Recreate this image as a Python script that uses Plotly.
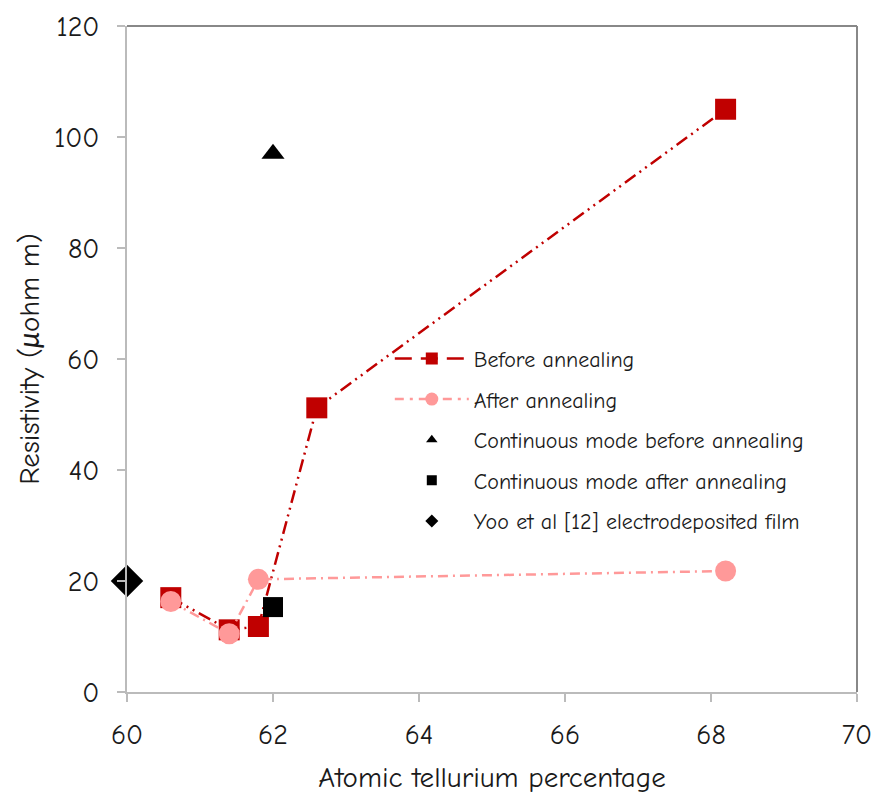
import plotly.graph_objects as go

# Data
before_x = [60.6, 61.4, 61.8, 62.6, 68.2]
before_y = [17.0, 11.2, 11.8, 51.2, 105.0]
after_x = [60.6, 61.4, 61.8, 68.2]
after_y = [16.3, 10.5, 20.3, 21.8]
cont_before_x = [62.0]
cont_before_y = [97.0]
cont_after_x = [62.0]
cont_after_y = [15.3]
yoo_x = [60.0]
yoo_y = [20.0]

names = ["Before annealing", "After annealing", "Continuous mode before annealing",
         "Continuous mode after annealing", "Yoo et al [12] electrodeposited film"]

x_ticks = [60, 62, 64, 66, 68, 70]
y_ticks = [0, 20, 40, 60, 80, 100, 120]

RED = "#C00000"
PINK = "#FF9999"
FONT = "Comic Sans MS, Comic Neue, Lato, sans-serif"

fig = go.Figure()

# data traces
fig.add_trace(go.Scatter(x=before_x, y=before_y, mode="lines+markers", showlegend=False,
                         line=dict(color=RED, width=2.5, dash="13px,5px,2px,5px,2px,5px"),
                         marker=dict(symbol="square", size=21, color=RED)))
fig.add_trace(go.Scatter(x=after_x, y=after_y, mode="lines+markers", showlegend=False,
                         line=dict(color=PINK, width=2.5, dash="10px,5px,2px,5px"),
                         marker=dict(symbol="circle", size=21, color=PINK)))
fig.add_trace(go.Scatter(x=cont_before_x, y=cont_before_y, mode="markers", showlegend=False,
                         marker=dict(symbol="triangle-up", size=20, color="black")))
fig.add_trace(go.Scatter(x=cont_after_x, y=cont_after_y, mode="markers", showlegend=False,
                         marker=dict(symbol="square", size=20, color="black")))
fig.add_trace(go.Scatter(x=yoo_x, y=yoo_y, mode="markers", showlegend=False, cliponaxis=False,
                         marker=dict(symbol="diamond", size=25, color="black")))

# legend entries
fig.add_trace(go.Scatter(x=[None], y=[None], mode="lines+markers", name=names[0], legendgroup="a",
                         line=dict(color=RED, width=2.5, dash="17px,9px"),
                         marker=dict(symbol="square", size=12, color=RED)))
fig.add_trace(go.Scatter(x=[None], y=[None], mode="lines+markers", name=names[1], legendgroup="b",
                         line=dict(color=PINK, width=2.5, dash="9px,6px,3px,6px"),
                         marker=dict(symbol="circle", size=13, color=PINK)))
fig.add_trace(go.Scatter(x=[None], y=[None], mode="markers", name=names[2], legendgroup="c",
                         marker=dict(symbol="triangle-up", size=10, color="black")))
fig.add_trace(go.Scatter(x=[None], y=[None], mode="markers", name=names[3], legendgroup="d",
                         marker=dict(symbol="square", size=10, color="black")))
fig.add_trace(go.Scatter(x=[None], y=[None], mode="markers", name=names[4], legendgroup="e",
                         marker=dict(symbol="diamond", size=10, color="black")))

fig.update_layout(
    width=877, height=798,
    margin=dict(l=127, r=20, t=26, b=106),
    paper_bgcolor="white", plot_bgcolor="white",
    font=dict(family=FONT, color="#1a1a1a"),
    legend=dict(x=0.36, y=0.532, xanchor="left", yanchor="top",
                bgcolor="rgba(0,0,0,0)", font=dict(size=22, family=FONT, color="#1a1a1a"),
                tracegroupgap=9, itemwidth=74),
    showlegend=True,
)
fig.update_xaxes(range=[60, 70], tickvals=x_ticks, ticktext=[str(v) for v in x_ticks],
                 automargin=False,
                 showgrid=False, zeroline=False, showline=True, linecolor="#BBBBBB", linewidth=2,
                 ticks="outside", ticklen=8, tickcolor="#BBBBBB", tickwidth=2,
                 tickfont=dict(size=28), ticklabelstandoff=8,
                 title=dict(text="Atomic tellurium percentage", font=dict(size=29), standoff=17))
fig.update_yaxes(range=[0, 120], tickvals=y_ticks, ticktext=[str(v) for v in y_ticks],
                 automargin=False,
                 showgrid=False, zeroline=False, showline=True, linecolor="#BBBBBB", linewidth=2,
                 ticks="outside", ticklen=8, tickcolor="#BBBBBB", tickwidth=2,
                 tickfont=dict(size=28), ticklabelstandoff=12,
                 title=dict(text="Resistivity (<i>μ</i>ohm m)", font=dict(size=29), standoff=6))

# top and right frame
fig.add_shape(type="line", xref="paper", yref="paper", x0=0, x1=1, y0=1, y1=1,
              line=dict(color="#888888", width=2))
fig.add_shape(type="line", xref="paper", yref="paper", x0=1, x1=1, y0=0, y1=1,
              line=dict(color="#888888", width=2))

fig.write_html("out.html", config={"displayModeBar": False},
               post_script="document.body.style.margin='0';")
